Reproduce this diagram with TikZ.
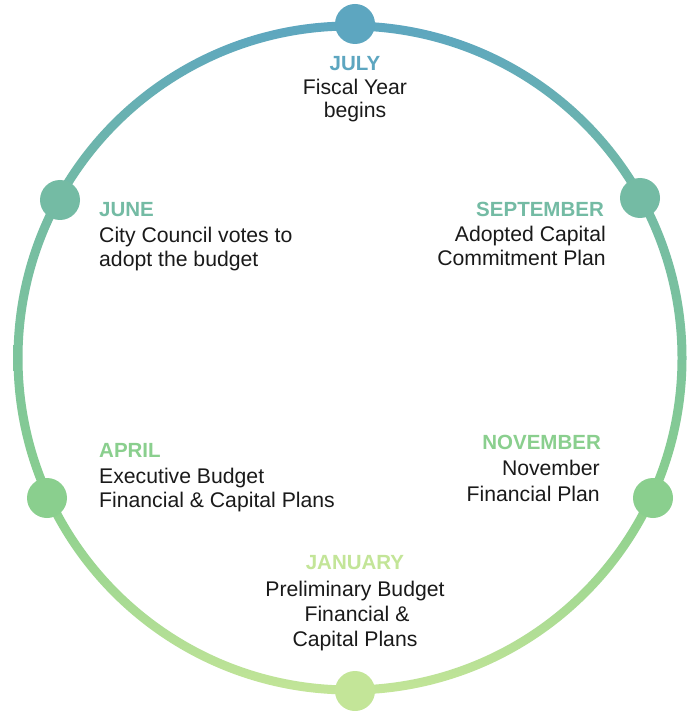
\documentclass[tikz,border=0pt]{standalone}
\usepackage{fontspec}
\setmainfont{Liberation Sans}
\definecolor{cJul}{HTML}{5DA6C0}
\definecolor{cJun}{HTML}{74BBA4}
\definecolor{cMid}{HTML}{7DC49C}
\definecolor{cApr}{HTML}{8ACF8E}
\definecolor{cJan}{HTML}{C3E598}
\definecolor{txt}{HTML}{1A1A1A}
\pgfdeclareverticalshading{ringshade}{100bp}{color(0bp)=(cJan); color(25bp)=(cJan); color(39.6bp)=(cApr); color(50bp)=(cMid); color(61.8bp)=(cJun); color(75bp)=(cJul); color(100bp)=(cJul)}
\begin{document}
\begin{tikzpicture}[x=1pt,y=-1pt,
  month/.style={font=\bfseries\fontsize{20.5}{25}\selectfont, inner sep=0pt},
  body/.style={font=\fontsize{21.2}{25}\selectfont, text=txt, inner sep=0pt},
  dot/.style={circle, minimum size=40pt, inner sep=0pt}]
\fill[white] (0,0) rectangle (693,711);
\useasboundingbox (0,0) rectangle (693,711);
\coordinate (c) at (350,358);
\shade[shading=ringshade, even odd rule] (c) circle[radius=336.5pt] (c) circle[radius=327.5pt];
% dots
\node[dot, fill=cJul] (dJul) at (355,24) {};
\node[dot, fill=cJun] (dSep) at (640,198) {};
\node[dot, fill=cJun] (dJun) at (60,200) {};
\node[dot, fill=cApr] (dApr) at (47,498) {};
\node[dot, fill=cApr] (dNov) at (653,498) {};
\node[dot, fill=cJan] (dJan) at (355,691) {};
% July
\node[month, text=cJul, anchor=base] (mJul) at (355,71) {JULY};
\node[body, anchor=base] (tJul1) at (355,94.5) {Fiscal Year};
\node[body, anchor=base] (tJul2) at (355,117.5) {begins};
% June
\node[month, text=cJun, anchor=base west] (mJun) at (99,216.7) {JUNE};
\node[body, anchor=base west] (tJun1) at (99,242.5) {City Council votes to};
\node[body, anchor=base west] (tJun2) at (99,266.7) {adopt the budget};
% September
\node[month, text=cJun, anchor=base east] (mSep) at (604,216.7) {SEPTEMBER};
\node[body, anchor=base east] (tSep1) at (606,241.7) {Adopted Capital};
\node[body, anchor=base east] (tSep2) at (606,265) {Commitment Plan};
% April
\node[month, text=cApr, anchor=base west] (mApr) at (99,457.3) {APRIL};
\node[body, anchor=base west] (tApr1) at (99,483.3) {Executive Budget};
\node[body, anchor=base west] (tApr2) at (99,507.3) {Financial \& Capital Plans};
% November
\node[month, text=cApr, anchor=base east] (mNov) at (601,449) {NOVEMBER};
\node[body, anchor=base east] (tNov1) at (600,475) {November};
\node[body, anchor=base east] (tNov2) at (600,501) {Financial Plan};
% January
\node[month, text=cJan, anchor=base] (mJan) at (355,569.3) {JANUARY};
\node[body, anchor=base] (tJan1) at (355,596) {Preliminary Budget};
\node[body, anchor=base] (tJan2) at (357,621.5) {Financial \&};
\node[body, anchor=base] (tJan3) at (355,646) {Capital Plans};
\end{tikzpicture}
\end{document}
